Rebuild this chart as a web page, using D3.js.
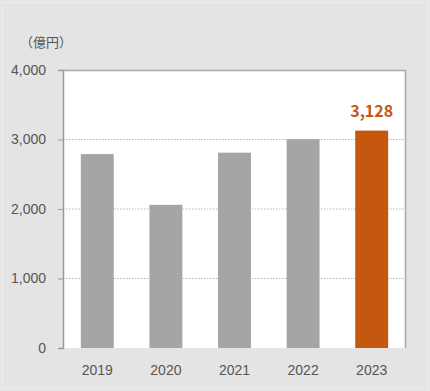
<!DOCTYPE html>
<html>
<head>
<meta charset="utf-8">
<script src="https://cdn.jsdelivr.net/npm/d3@7"></script>
<style>
  html, body { margin: 0; padding: 0; background: #e4e4e4; }
  svg { display: block; font-family: "Noto Sans CJK JP", "Noto Sans", sans-serif; }
</style>
</head>
<body>
<div id="chart"></div>
<script>
let years = ["2019", "2020", "2021", "2022", "2023"];
let sales = [2790, 2060, 2810, 3005, 3128];
let yTicks = [0, 1000, 2000, 3000, 4000];
let unitLabel = "（億円）";

let W = 430, H = 391;
let plot = {left: 63, right: 406, top: 70, bottom: 348};

let svg = d3.select("#chart").append("svg").attr("width", W).attr("height", H);

// outer panel
svg.append("rect").attr("x", 0).attr("y", 0).attr("width", W).attr("height", H).attr("fill", "#e4e4e4");
svg.append("rect").attr("x", 2.5).attr("y", 2.5).attr("width", W - 5).attr("height", H - 5)
   .attr("fill", "none").attr("stroke", "#ececec").attr("stroke-width", 1);

// plot background
svg.append("rect").attr("x", plot.left).attr("y", plot.top)
   .attr("width", plot.right - plot.left).attr("height", plot.bottom - plot.top)
   .attr("fill", "#ffffff");

let x = d3.scaleBand().domain(years).range([plot.left, plot.right])
          .paddingInner(0.52).paddingOuter(0.26);
let y = d3.scaleLinear().domain([0, 4000]).range([plot.bottom, plot.top]);

// dotted gridlines
svg.append("g").selectAll("line")
   .data(yTicks.filter(d => d > 0 && d < 4000))
   .enter().append("line")
   .attr("x1", plot.left).attr("x2", plot.right)
   .attr("y1", d => y(d)).attr("y2", d => y(d))
   .attr("stroke", "#b5b5b5").attr("stroke-width", 1).attr("stroke-dasharray", "1.5,1.5");

// top and right border
svg.append("path")
   .attr("d", `M${plot.left},${plot.top + 0.5}H${plot.right - 0.5}V${plot.bottom}`)
   .attr("fill", "none").attr("stroke", "#a8a8a8").attr("stroke-width", 1.5);

// bars
svg.append("g").selectAll("rect")
   .data(years.map((d, i) => ({year: d, value: sales[i]})))
   .enter().append("rect")
   .attr("x", d => x(d.year))
   .attr("width", x.bandwidth())
   .attr("y", d => y(d.value))
   .attr("height", d => y(0) - y(d.value))
   .attr("fill", d => d.year === "2023" ? "#c5570f" : "#a5a5a5");

// y axis
let yAxis = svg.append("g").attr("transform", `translate(${plot.left},0)`)
   .call(d3.axisLeft(y).tickValues(yTicks).tickSize(5).tickPadding(12)
          .tickFormat(d3.format(",")));
yAxis.select(".domain").attr("stroke", "#9a9a9a").attr("stroke-width", 1.5);
yAxis.selectAll(".tick line").attr("stroke", "#9a9a9a");
yAxis.selectAll("text").attr("font-size", 14).attr("fill", "#555");

// x axis labels
let xAxis = svg.append("g").attr("transform", `translate(0,${plot.bottom})`)
   .call(d3.axisBottom(x).tickSize(0).tickPadding(17));
xAxis.select(".domain").remove();
xAxis.selectAll("text").attr("font-size", 14).attr("fill", "#555");

// unit label
svg.append("text").attr("x", 20).attr("y", 47).text(unitLabel)
   .attr("font-size", 13).attr("fill", "#555");

// value label for last bar
let last = years.length - 1;
svg.append("text")
   .attr("x", x(years[last]) + x.bandwidth() / 2)
   .attr("y", y(sales[last]) - 14)
   .attr("text-anchor", "middle")
   .attr("font-size", 16).attr("font-weight", "bold").attr("fill", "#c5570f")
   .text(d3.format(",")(sales[last]));
</script>
</body>
</html>
